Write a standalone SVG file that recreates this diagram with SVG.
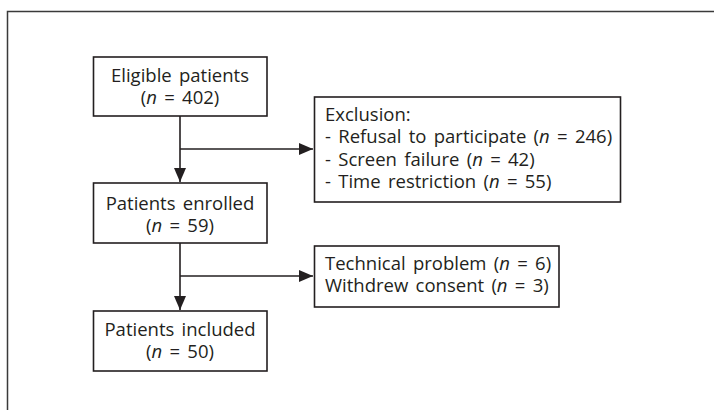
<svg xmlns="http://www.w3.org/2000/svg" width="714" height="410" viewBox="0 0 714 410">
<style>
.box{fill:#fff;stroke:#231f20;stroke-width:1.6}
.t{font-family:"Open Sans","Noto Sans",sans-serif;font-size:18.5px;fill:#231f20;word-spacing:2.5px}
.c{text-anchor:middle}
.ln{fill:none;stroke:#231f20;stroke-width:1.6}
</style>
<defs>
<marker id="ah" markerWidth="14" markerHeight="12" refX="14" refY="6" orient="auto" markerUnits="userSpaceOnUse">
<path d="M0,0 L14,6 L0,12 Z" fill="#231f20"/>
</marker>
</defs>
<rect width="714" height="410" fill="#fff"/>
<path d="M7.5,410 V11.5 H714" fill="none" stroke="#3a3a3a" stroke-width="1.5"/>
<g id="connectors">
<path class="ln" d="M180,116 V182" marker-end="url(#ah)"/>
<path class="ln" d="M180,149 H313" marker-end="url(#ah)"/>
<path class="ln" d="M180,243 V310" marker-end="url(#ah)"/>
<path class="ln" d="M180,276 H313" marker-end="url(#ah)"/>
</g>
<g id="eligible">
<rect class="box" x="93.5" y="57" width="173.5" height="59"/>
<text class="t c" x="180" y="82">Eligible patients</text>
<text class="t c" x="180" y="104">(<tspan font-style="italic">n</tspan> = 402)</text>
</g>
<g id="exclusion">
<rect class="box" x="314.5" y="97" width="306" height="105"/>
<text class="t" x="325" y="121">Exclusion:</text>
<text class="t" x="325" y="143">- Refusal to participate (<tspan font-style="italic">n</tspan> = 246)</text>
<text class="t" x="325" y="166">- Screen failure (<tspan font-style="italic">n</tspan> = 42)</text>
<text class="t" x="325" y="188">- Time restriction (<tspan font-style="italic">n</tspan> = 55)</text>
</g>
<g id="enrolled">
<rect class="box" x="93.5" y="183" width="173.5" height="60"/>
<text class="t c" x="180" y="210">Patients enrolled</text>
<text class="t c" x="180" y="232">(<tspan font-style="italic">n</tspan> = 59)</text>
</g>
<g id="withdrawn">
<rect class="box" x="314.5" y="246" width="244.5" height="61"/>
<text class="t" x="325" y="270">Technical problem (<tspan font-style="italic">n</tspan> = 6)</text>
<text class="t" x="325" y="292">Withdrew consent (<tspan font-style="italic">n</tspan> = 3)</text>
</g>
<g id="included">
<rect class="box" x="93.5" y="311" width="173.5" height="60"/>
<text class="t c" x="180" y="336">Patients included</text>
<text class="t c" x="180" y="358">(<tspan font-style="italic">n</tspan> = 50)</text>
</g>
</svg>
